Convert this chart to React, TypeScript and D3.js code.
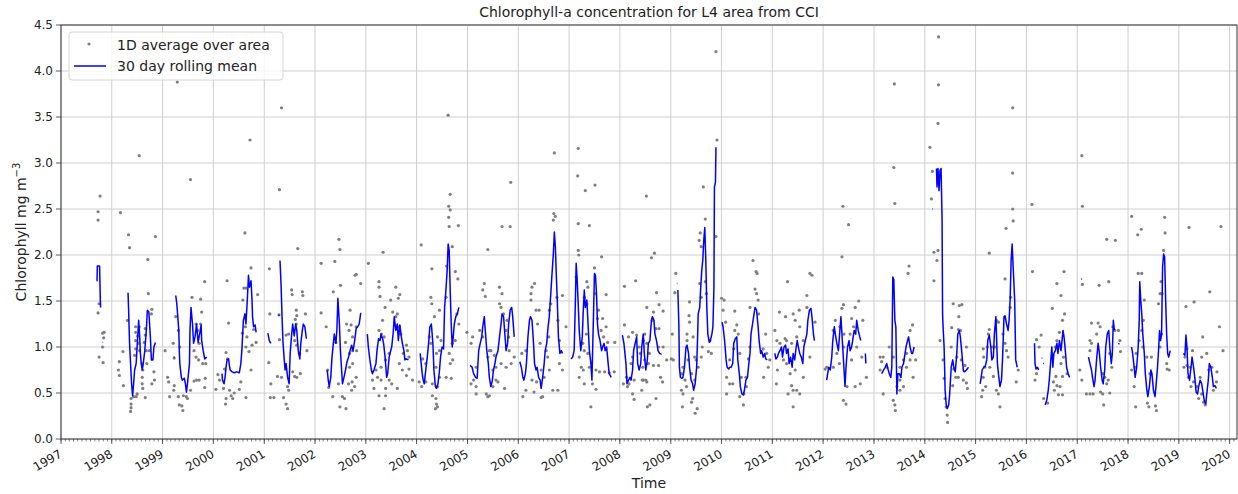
import * as d3 from 'd3';

type Pt = [number, number | null];

// 1D average over area (decimal year, mg m-3)
const s1997: Pt[] = [[1997.73,2.47],[1997.73,2.38],[1997.77,2.64],[1997.75,1.47],[1997.73,1.37],[1997.82,1.15],[1997.85,1.16],[1997.84,1.10],[1997.82,1.0],[1997.75,0.89],[1997.83,0.83]];
const s1998: Pt[] = [[1998.17,2.46],[1998.33,2.22],[1998.35,2.08],[1998.54,3.08],[1998.86,2.20],[1998.71,1.95],[1998.72,1.58],[1998.79,1.41],[1998.78,1.36],[1998.31,1.29],[1998.22,0.95],[1998.15,0.84],[1998.13,0.75],[1998.15,0.69],[1998.23,0.58],[1998.47,1.22],[1998.54,1.22],[1998.47,1.16],[1998.51,1.12],[1998.47,1.07],[1998.53,1.04],[1998.47,0.98],[1998.55,0.96],[1998.45,0.91],[1998.66,1.20],[1998.66,1.13],[1998.64,1.05],[1998.68,0.96],[1998.60,0.82],[1998.61,0.75],[1998.60,0.67],[1998.60,0.60],[1998.61,0.55],[1998.69,0.82],[1998.83,0.73],[1998.84,0.64],[1998.79,0.60],[1998.74,0.96],[1998.43,0.46],[1998.48,0.46],[1998.38,0.44],[1998.38,0.38],[1998.38,0.34],[1998.66,0.45],[1998.50,0.49],[1998.37,0.30]];
const s1999: Pt[] = [[1999.29,3.88],[1999.55,2.82],[1999.83,1.71],[1999.75,1.52],[1999.58,1.54],[1999.77,1.38],[1999.26,1.33],[1999.31,1.18],[1999.21,1.04],[1999.34,1.0],[1999.05,0.96],[1999.23,0.88],[1999.66,1.25],[1999.69,1.18],[1999.75,1.25],[1999.72,1.04],[1999.62,0.96],[1999.66,0.89],[1999.71,0.86],[1999.79,0.82],[1999.85,0.82],[1999.67,0.64],[1999.72,0.64],[1999.62,0.63],[1999.84,0.66],[1999.10,0.67],[1999.12,0.62],[1999.23,0.58],[1999.22,0.53],[1999.14,0.46],[1999.31,0.46],[1999.41,0.47],[1999.47,0.46],[1999.49,0.44],[1999.33,0.37],[1999.38,0.36],[1999.83,0.56],[1999.55,0.53],[1999.40,0.31]];
const s2000: Pt[] = [[2000.27,1.72],[2000.58,1.51],[2000.60,1.64],[2000.64,1.64],[2000.62,2.24],[2000.74,1.86],[2000.87,1.57],[2000.30,1.26],[2000.63,1.22],[2000.79,1.19],[2000.84,1.05],[2000.57,1.15],[2000.66,1.11],[2000.76,1.02],[2000.64,1.0],[2000.70,0.95],[2000.74,0.75],[2000.25,0.94],[2000.28,0.87],[2000.22,0.76],[2000.09,0.70],[2000.12,0.64],[2000.20,0.55],[2000.05,0.54],[2000.32,0.53],[2000.35,0.47],[2000.41,0.50],[2000.51,0.54],[2000.38,0.44],[2000.25,0.44],[2000.24,0.38],[2000.64,0.45],[2000.54,0.62],[2000.72,3.25]];
const s2001: Pt[] = [[2001.34,3.60],[2001.30,2.71],[2001.66,2.07],[2001.10,1.85],[2001.54,1.62],[2001.55,1.57],[2001.75,1.60],[2001.76,1.56],[2001.11,1.36],[2001.29,1.35],[2001.63,1.40],[2001.64,1.34],[2001.61,1.30],[2001.81,1.36],[2001.63,1.25],[2001.48,1.14],[2001.43,1.13],[2001.30,1.08],[2001.60,1.07],[2001.64,1.02],[2001.69,0.93],[2001.84,0.96],[2001.09,0.83],[2001.26,0.68],[2001.34,0.67],[2001.56,0.73],[2001.60,0.68],[2001.64,0.67],[2001.71,0.71],[2001.13,0.60],[2001.46,0.57],[2001.48,0.53],[2001.12,0.45],[2001.19,0.45],[2001.38,0.45],[2001.43,0.38],[2001.46,0.33]];
const s2002: Pt[] = [[2002.12,1.91],[2002.47,2.17],[2002.49,2.06],[2002.39,1.93],[2002.50,1.67],[2002.81,1.79],[2002.36,1.60],[2002.12,1.37],[2002.62,1.25],[2002.22,1.22],[2002.71,1.24],[2002.81,1.22],[2002.67,1.18],[2002.74,1.11],[2002.60,1.05],[2002.41,1.05],[2002.82,0.96],[2002.68,0.93],[2002.74,0.82],[2002.25,0.75],[2002.68,0.78],[2002.81,0.67],[2002.73,0.62],[2002.78,0.57],[2002.27,0.56],[2002.66,0.60],[2002.46,0.60],[2002.54,0.46],[2002.58,0.44],[2002.35,0.46],[2002.49,0.35],[2002.61,0.33],[2002.79,1.78],[2002.90,1.69],[2002.69,1.40],[2002.74,0.96],[2002.72,0.53]];
const s2003: Pt[] = [[2003.34,2.03],[2003.05,1.91],[2003.26,1.71],[2003.26,1.65],[2003.28,1.55],[2003.38,1.43],[2003.49,1.51],[2003.59,1.65],[2003.67,1.57],[2003.64,1.53],[2003.53,1.38],[2003.62,1.36],[2003.33,1.29],[2003.59,1.33],[2003.26,1.18],[2003.31,1.14],[2003.36,1.11],[2003.66,1.22],[2003.69,1.14],[2003.80,1.02],[2003.82,0.96],[2003.74,0.93],[2003.85,0.89],[2003.46,0.93],[2003.39,0.86],[2003.66,0.82],[2003.72,0.75],[2003.85,0.76],[2003.80,0.69],[2003.30,0.78],[2003.20,0.75],[2003.23,0.67],[2003.13,0.64],[2003.16,0.55],[2003.30,0.64],[2003.46,0.64],[2003.39,0.55],[2003.51,0.60],[2003.62,0.55],[2003.92,0.64],[2003.26,0.47],[2003.39,0.47],[2003.36,0.33]];
const s2004: Pt[] = [[2004.09,2.11],[2004.30,1.85],[2004.66,2.66],[2004.63,2.53],[2004.66,2.49],[2004.63,2.41],[2004.64,2.31],[2004.82,2.32],[2004.70,2.09],[2004.59,1.88],[2004.76,1.82],[2004.81,1.74],[2004.58,1.54],[2004.45,1.40],[2004.30,1.47],[2004.28,1.54],[2004.35,1.33],[2004.25,1.11],[2004.28,1.04],[2004.41,1.11],[2004.45,0.96],[2004.39,0.93],[2004.48,1.07],[2004.76,1.07],[2004.70,1.04],[2004.64,0.93],[2004.71,0.86],[2004.66,0.82],[2004.12,0.87],[2004.18,0.82],[2004.38,0.78],[2004.45,0.67],[2004.58,0.67],[2004.68,0.66],[2004.18,0.62],[2004.05,0.62],[2004.10,0.57],[2004.31,0.60],[2004.41,0.57],[2004.31,0.47],[2004.38,0.44],[2004.39,0.38],[2004.37,0.33],[2004.41,0.35],[2004.62,3.52],[2004.99,1.16],[2004.83,1.25],[2004.79,1.36]];
const s2005: Pt[] = [[2005.40,2.06],[2005.33,1.69],[2005.30,1.62],[2005.35,1.55],[2005.10,1.11],[2005.07,1.04],[2005.24,1.18],[2005.30,1.11],[2005.43,0.96],[2005.40,0.89],[2005.63,1.65],[2005.68,1.58],[2005.63,1.47],[2005.66,1.43],[2005.71,1.36],[2005.76,1.18],[2005.81,1.11],[2005.78,1.29],[2005.82,0.96],[2005.86,0.82],[2005.92,0.89],[2005.76,0.78],[2005.66,0.82],[2005.56,0.78],[2005.50,0.75],[2005.46,0.96],[2005.53,0.91],[2005.17,0.78],[2005.12,0.64],[2005.07,0.60],[2005.17,0.57],[2005.56,0.64],[2005.50,0.57],[2005.60,0.62],[2005.37,0.49],[2005.43,0.47],[2005.40,0.46],[2005.73,0.55],[2005.17,0.49],[2005.68,2.31],[2005.84,2.31],[2005.85,2.79]];
const s2006: Pt[] = [[2006.25,1.58],[2006.27,1.65],[2006.25,1.51],[2006.32,1.69],[2006.35,1.40],[2006.41,1.40],[2006.38,1.25],[2006.43,1.04],[2006.55,0.96],[2006.60,1.11],[2006.61,1.40],[2006.64,1.47],[2006.70,2.45],[2006.73,2.42],[2006.69,2.38],[2006.76,1.54],[2006.78,1.29],[2006.81,1.07],[2006.87,1.56],[2006.94,1.22],[2006.81,0.82],[2006.87,0.75],[2006.58,0.89],[2006.61,0.75],[2006.51,0.67],[2006.45,0.75],[2006.36,0.62],[2006.27,0.64],[2006.15,0.53],[2006.31,0.51],[2006.45,0.45],[2006.09,0.46],[2006.48,0.46],[2006.68,0.53],[2006.78,0.53],[2006.07,0.93],[2006.15,0.96],[2006.71,3.11]];
const s2007: Pt[] = [[2007.17,2.86],[2007.32,2.70],[2007.51,2.76],[2007.18,2.34],[2007.40,2.32],[2007.18,2.05],[2007.19,2.0],[2007.64,1.98],[2007.50,1.86],[2007.14,1.76],[2007.35,1.71],[2007.37,1.65],[2007.52,1.58],[2007.73,1.57],[2007.30,1.54],[2007.35,1.47],[2007.58,1.40],[2007.56,1.31],[2007.66,1.31],[2007.63,1.18],[2007.73,1.22],[2007.68,1.11],[2007.76,1.05],[2007.90,1.05],[2007.34,1.14],[2007.27,1.04],[2007.30,0.96],[2007.37,0.93],[2007.20,0.89],[2007.24,0.78],[2007.28,0.75],[2007.40,0.78],[2007.53,0.75],[2007.60,0.73],[2007.70,0.73],[2007.79,0.72],[2007.89,0.73],[2007.20,0.67],[2007.30,0.60],[2007.46,0.60],[2007.53,0.54],[2007.43,0.35],[2007.18,3.16]];
const s2008: Pt[] = [[2008.09,1.66],[2008.31,1.72],[2008.09,1.24],[2008.17,1.11],[2008.25,1.16],[2008.33,1.13],[2008.38,1.0],[2008.25,0.89],[2008.22,0.82],[2008.13,0.67],[2008.07,0.60],[2008.18,0.60],[2008.28,0.64],[2008.44,0.64],[2008.51,0.64],[2008.15,0.57],[2008.25,0.49],[2008.28,0.43],[2008.45,0.78],[2008.53,1.43],[2008.52,2.64],[2008.62,1.97],[2008.68,2.02],[2008.72,1.59],[2008.77,1.46],[2008.85,1.39],[2008.66,1.38],[2008.64,1.29],[2008.71,1.20],[2008.77,1.20],[2008.49,1.14],[2008.46,1.07],[2008.53,1.04],[2008.76,1.0],[2008.58,0.93],[2008.85,1.0],[2008.40,0.93],[2008.49,0.86],[2008.56,0.82],[2008.66,0.80],[2008.76,0.80],[2008.92,0.86],[2009.01,0.87],[2008.80,0.67],[2008.84,0.62],[2008.46,0.64],[2008.53,0.62],[2008.43,0.53],[2008.71,0.44],[2008.59,0.37],[2008.54,0.35]];
const s2009: Pt[] = [[2009.10,1.80],[2009.08,1.59],[2009.37,1.49],[2009.36,1.34],[2009.37,1.27],[2009.32,1.14],[2009.32,1.07],[2009.44,1.11],[2009.64,2.74],[2009.68,2.39],[2009.56,2.16],[2009.58,2.24],[2009.60,2.09],[2009.57,1.69],[2009.60,1.54],[2009.68,1.71],[2009.70,1.58],[2009.77,1.07],[2009.62,1.0],[2009.74,0.95],[2009.80,0.93],[2009.34,0.86],[2009.24,0.78],[2009.21,0.71],[2009.28,0.64],[2009.41,0.71],[2009.47,0.89],[2009.50,0.86],[2009.54,0.78],[2009.60,0.89],[2009.47,0.64],[2009.31,0.57],[2009.21,0.53],[2009.24,0.49],[2009.43,0.44],[2009.41,0.40],[2009.23,0.35],[2009.91,3.25],[2009.89,4.21],[2009.89,2.20],[2009.03,1.14],[2009.05,0.86],[2009.48,0.28],[2009.52,0.33]];
const s2010: Pt[] = [[2010.00,1.53],[2010.05,1.51],[2010.03,1.40],[2010.08,1.27],[2010.26,1.39],[2010.30,1.24],[2010.26,1.18],[2010.33,1.14],[2010.36,0.93],[2010.24,0.98],[2010.16,0.86],[2010.10,0.67],[2010.16,0.60],[2010.22,0.60],[2010.56,1.43],[2010.62,1.94],[2010.68,1.82],[2010.70,1.80],[2010.66,1.63],[2010.69,1.58],[2010.72,1.51],[2010.73,1.36],[2010.87,1.14],[2010.82,0.98],[2010.89,0.93],[2010.95,0.86],[2010.92,0.78],[2010.83,0.67],[2010.56,1.0],[2010.53,0.87],[2010.48,0.67],[2010.39,0.67],[2010.49,0.57],[2010.44,0.49],[2010.36,0.46],[2010.43,0.37],[2010.10,0.49]];
const s2011: Pt[] = [[2011.30,1.71],[2011.05,1.18],[2011.14,1.38],[2011.26,1.33],[2011.41,1.36],[2011.45,1.29],[2011.53,1.40],[2011.54,1.22],[2011.68,1.56],[2011.74,1.80],[2011.78,1.78],[2011.84,1.27],[2011.68,1.43],[2011.09,1.07],[2011.15,1.04],[2011.25,1.09],[2011.28,1.07],[2011.38,1.04],[2011.48,1.11],[2011.61,1.07],[2011.22,0.86],[2011.28,0.82],[2011.10,0.75],[2011.45,0.75],[2011.74,0.89],[2011.35,0.71],[2011.08,0.60],[2011.38,0.58],[2011.41,0.53],[2011.31,0.49],[2011.48,0.53],[2011.54,0.49],[2011.41,0.35],[2011.61,0.67]];
const s2012: Pt[] = [[2012.39,2.53],[2012.50,2.33],[2012.37,1.98],[2012.40,1.46],[2012.37,1.42],[2012.63,1.43],[2012.70,1.50],[2012.24,1.29],[2012.33,1.22],[2012.41,1.14],[2012.56,1.31],[2012.60,1.22],[2012.53,1.14],[2012.78,1.29],[2012.20,1.18],[2012.27,0.93],[2012.40,1.0],[2012.66,1.0],[2012.76,0.89],[2012.07,0.78],[2012.20,0.78],[2012.32,0.82],[2012.04,0.76],[2012.56,0.86],[2012.85,0.67],[2012.47,0.57],[2012.63,0.57],[2012.73,0.60],[2012.40,0.42],[2012.45,0.38]];
const s2013: Pt[] = [[2013.39,2.95],[2013.41,2.56],[2013.40,3.86],[2013.69,1.88],[2013.67,1.80],[2013.76,1.24],[2013.71,1.18],[2013.30,1.0],[2013.12,0.89],[2013.15,0.84],[2013.18,0.89],[2013.25,0.78],[2013.38,0.89],[2013.51,0.78],[2013.58,0.86],[2013.64,0.93],[2013.71,0.86],[2013.82,0.86],[2013.64,0.78],[2013.77,0.67],[2013.51,0.64],[2013.45,0.57],[2013.58,0.57],[2013.12,0.75],[2013.18,0.49],[2013.38,0.42],[2013.41,0.37],[2013.51,0.53],[2013.42,0.31]];
const s2014: Pt[] = [[2014.10,3.17],[2014.26,3.43],[2014.27,4.37],[2014.27,3.85],[2014.15,2.91],[2014.25,2.90],[2014.13,2.61],[2014.18,2.03],[2014.26,2.05],[2014.24,1.94],[2014.18,1.72],[2014.30,1.07],[2014.36,0.86],[2014.38,0.66],[2014.40,0.44],[2014.42,0.35],[2014.45,0.18],[2014.44,0.26],[2014.56,1.47],[2014.68,1.45],[2014.73,1.46],[2014.67,1.33],[2014.53,1.21],[2014.66,1.19],[2014.70,1.18],[2014.52,1.0],[2014.63,0.89],[2014.57,0.76],[2014.61,0.67],[2014.55,0.58],[2014.66,0.67],[2014.76,0.64],[2014.82,0.61],[2014.84,0.55],[2014.72,0.86],[2014.79,0.80],[2014.82,1.0]];
const s2015: Pt[] = [[2015.27,2.02],[2015.73,2.89],[2015.73,2.50],[2015.74,2.37],[2015.60,2.29],[2015.58,1.74],[2015.69,1.54],[2015.68,1.43],[2015.41,1.29],[2015.45,1.27],[2015.27,1.19],[2015.25,1.14],[2015.15,0.98],[2015.23,1.0],[2015.33,1.0],[2015.38,1.0],[2015.54,1.14],[2015.58,1.04],[2015.61,0.96],[2015.64,0.89],[2015.16,0.89],[2015.18,0.78],[2015.28,0.78],[2015.15,0.67],[2015.35,0.68],[2015.20,0.57],[2015.14,0.53],[2015.41,0.53],[2015.45,0.49],[2015.48,0.35],[2015.12,0.46],[2015.80,0.62],[2015.84,0.75],[2015.73,3.60]];
const s2016: Pt[] = [[2016.11,2.55],[2016.12,1.82],[2016.74,1.82],[2016.60,1.69],[2016.68,1.56],[2016.51,1.42],[2016.75,1.36],[2016.71,1.29],[2016.65,1.16],[2016.20,1.08],[2016.29,1.13],[2016.25,1.0],[2016.60,1.07],[2016.57,1.0],[2016.73,0.89],[2016.68,0.82],[2016.80,0.71],[2016.58,0.68],[2016.71,0.68],[2016.20,0.71],[2016.17,0.64],[2016.53,0.62],[2016.60,0.58],[2016.55,0.53],[2016.66,0.57],[2016.63,0.48],[2016.71,0.48],[2016.34,0.44],[2016.42,0.39]];
const s2017: Pt[] = [[2017.09,3.08],[2017.10,2.53],[2017.10,1.68],[2017.43,1.67],[2017.62,1.71],[2017.58,2.17],[2017.75,2.16],[2017.41,1.26],[2017.28,1.26],[2017.45,1.22],[2017.38,1.14],[2017.25,1.07],[2017.28,1.04],[2017.25,0.96],[2017.70,1.22],[2017.74,1.18],[2017.81,1.18],[2017.84,1.07],[2017.85,0.95],[2017.64,0.93],[2017.68,0.78],[2017.51,0.71],[2017.54,0.67],[2017.61,0.64],[2017.58,0.60],[2017.18,0.49],[2017.25,0.49],[2017.31,0.49],[2017.46,0.51],[2017.50,0.49],[2017.52,0.37],[2017.64,0.50],[2017.05,0.75],[2017.09,0.64]];
const s2018: Pt[] = [[2018.07,2.42],[2018.19,2.22],[2018.26,2.28],[2018.20,1.80],[2018.27,1.80],[2018.32,1.51],[2018.30,1.29],[2018.27,1.18],[2018.22,1.07],[2018.29,1.0],[2018.16,0.93],[2018.07,0.75],[2018.14,0.78],[2018.12,0.57],[2018.15,0.35],[2018.38,0.39],[2018.41,0.35],[2018.54,0.36],[2018.56,0.31],[2018.37,0.89],[2018.43,0.71],[2018.46,0.89],[2018.63,1.0],[2018.66,1.14],[2018.60,1.47],[2018.63,1.58],[2018.65,1.71],[2018.72,2.41],[2018.73,2.24],[2018.70,2.05],[2018.76,0.82],[2018.77,0.76],[2018.81,0.75],[2018.67,1.58]];
const s2019: Pt[] = [[2019.20,2.30],[2019.30,1.49],[2019.14,1.44],[2019.47,1.11],[2019.83,2.31],[2019.61,1.60],[2019.80,1.22],[2019.87,0.96],[2019.16,0.98],[2019.12,0.89],[2019.27,0.96],[2019.16,0.80],[2019.22,0.78],[2019.19,0.67],[2019.29,0.62],[2019.42,0.67],[2019.45,0.89],[2019.55,0.93],[2019.59,0.75],[2019.65,0.78],[2019.75,0.73],[2019.68,0.53],[2019.36,0.57],[2019.39,0.44],[2019.45,0.49],[2019.49,0.40],[2019.52,0.37],[2019.74,0.62],[2019.24,0.57],[2019.10,0.78]];

// 30 day rolling mean, null = gap
const m1997: Pt[] = [[1997.70,1.72],[1997.71,1.72],[1997.715,1.88],[1997.76,1.88],[1997.775,1.50],[1997.78,1.43],[1997.79,null],[1997.82,1.05],[1997.83,1.05]];
const m1998: Pt[] = [[1998.32,1.59],[1998.33,1.43],[1998.35,1.04],[1998.37,0.82],[1998.39,0.60],[1998.41,0.47],[1998.43,0.60],[1998.45,0.75],[1998.48,0.82],[1998.51,1.11],[1998.53,1.29],[1998.55,1.11],[1998.56,0.96],[1998.58,0.82],[1998.60,0.75],[1998.62,0.82],[1998.65,0.96],[1998.68,1.18],[1998.70,1.40],[1998.73,1.38],[1998.76,1.11],[1998.78,0.86],[1998.81,0.86],[1998.83,1.0],[1998.86,1.05]];
const m1999: Pt[] = [[1999.22,0.89],[1999.235,0.89],[1999.24,null],[1999.26,1.56],[1999.28,1.47],[1999.30,1.33],[1999.32,1.18],[1999.33,0.96],[1999.34,0.82],[1999.37,0.67],[1999.39,0.64],[1999.43,0.66],[1999.45,0.60],[1999.47,0.51],[1999.49,0.60],[1999.53,0.82],[1999.54,1.18],[1999.56,1.43],[1999.59,1.25],[1999.61,1.04],[1999.64,1.11],[1999.67,1.25],[1999.70,1.05],[1999.72,1.11],[1999.76,1.24],[1999.77,1.07],[1999.80,0.96],[1999.83,0.87],[1999.87,0.89]];
const m2000: Pt[] = [[2000.17,0.71],[2000.18,0.64],[2000.21,0.60],[2000.23,0.67],[2000.25,0.78],[2000.27,0.86],[2000.30,0.87],[2000.32,0.78],[2000.33,0.75],[2000.37,0.73],[2000.41,0.72],[2000.46,0.73],[2000.51,0.72],[2000.54,0.82],[2000.56,0.96],[2000.59,1.29],[2000.62,1.36],[2000.64,1.25],[2000.67,1.54],[2000.69,1.78],[2000.71,1.65],[2000.74,1.72],[2000.76,1.51],[2000.77,1.33],[2000.79,1.22],[2000.82,1.24],[2000.84,1.16]];
const m2001: Pt[] = [[2001.07,1.15],[2001.10,1.07],[2001.13,1.04],[2001.2,null],[2001.28,1.35],[2001.30,1.34],[2001.305,null],[2001.31,1.94],[2001.33,1.69],[2001.35,1.33],[2001.37,1.04],[2001.39,0.89],[2001.41,0.75],[2001.43,0.82],[2001.46,0.67],[2001.49,0.60],[2001.51,0.93],[2001.54,1.14],[2001.56,1.25],[2001.59,1.12],[2001.62,1.25],[2001.64,1.18],[2001.67,0.96],[2001.70,0.87],[2001.72,1.04],[2001.75,1.18],[2001.77,1.25],[2001.80,1.22],[2001.83,1.09]];
const m2002: Pt[] = [[2002.24,0.75],[2002.26,0.64],[2002.28,0.57],[2002.31,0.67],[2002.33,0.86],[2002.36,1.04],[2002.38,1.14],[2002.41,1.04],[2002.43,1.18],[2002.45,1.53],[2002.48,1.25],[2002.50,0.96],[2002.52,0.78],[2002.54,0.60],[2002.57,0.67],[2002.60,0.75],[2002.63,0.84],[2002.66,0.89],[2002.69,0.96],[2002.72,1.02],[2002.75,0.96],[2002.78,1.07],[2002.81,1.20],[2002.84,1.22],[2002.87,1.25],[2002.90,1.37]];
const m2003: Pt[] = [[2003.03,1.14],[2003.05,1.0],[2003.08,0.86],[2003.11,0.75],[2003.13,0.71],[2003.16,0.75],[2003.20,0.82],[2003.22,0.96],[2003.25,1.09],[2003.28,1.07],[2003.30,1.14],[2003.33,1.09],[2003.35,1.04],[2003.38,0.89],[2003.41,0.67],[2003.43,0.71],[2003.46,0.89],[2003.49,0.96],[2003.51,1.0],[2003.54,1.16],[2003.56,1.33],[2003.59,1.18],[2003.62,1.25],[2003.64,1.07],[2003.67,1.24],[2003.70,1.11],[2003.72,1.04],[2003.75,0.96],[2003.77,0.86],[2003.80,0.87],[2003.84,0.86]];
const m2004: Pt[] = [[2004.07,0.93],[2004.09,0.82],[2004.11,0.71],[2004.13,0.64],[2004.15,0.60],[2004.18,0.75],[2004.21,0.89],[2004.24,1.07],[2004.26,1.22],[2004.29,1.25],[2004.32,1.04],[2004.34,0.75],[2004.37,0.57],[2004.39,0.55],[2004.42,0.60],[2004.45,0.75],[2004.47,0.89],[2004.50,1.0],[2004.53,0.98],[2004.55,1.43],[2004.58,1.65],[2004.60,1.83],[2004.62,2.12],[2004.64,2.05],[2004.66,1.61],[2004.68,1.25],[2004.70,1.0],[2004.72,1.11],[2004.74,1.25],[2004.77,1.33],[2004.80,1.36],[2004.83,1.43]];
const m2005: Pt[] = [[2005.05,0.80],[2005.09,0.78],[2005.12,0.71],[2005.16,0.67],[2005.19,0.66],[2005.22,0.96],[2005.25,1.04],[2005.28,1.11],[2005.30,1.22],[2005.33,1.33],[2005.35,1.18],[2005.38,0.96],[2005.41,0.82],[2005.43,0.67],[2005.46,0.57],[2005.49,0.64],[2005.51,0.75],[2005.54,0.82],[2005.56,0.89],[2005.60,0.96],[2005.63,1.11],[2005.66,1.25],[2005.68,1.36],[2005.71,1.33],[2005.73,1.18],[2005.76,0.96],[2005.79,1.04],[2005.81,1.25],[2005.84,1.40],[2005.87,1.43],[2005.89,1.33],[2005.92,1.11]];
const m2006: Pt[] = [[2006.03,0.84],[2006.06,0.78],[2006.09,0.67],[2006.11,0.64],[2006.14,0.71],[2006.16,0.82],[2006.19,1.11],[2006.22,1.29],[2006.24,1.33],[2006.27,1.29],[2006.30,1.04],[2006.32,0.82],[2006.35,0.75],[2006.37,0.78],[2006.40,0.67],[2006.43,0.64],[2006.45,0.55],[2006.48,0.67],[2006.51,0.82],[2006.53,0.96],[2006.56,1.04],[2006.58,1.18],[2006.61,1.33],[2006.64,1.58],[2006.66,1.76],[2006.69,2.01],[2006.71,2.25],[2006.73,2.09],[2006.75,1.76],[2006.77,1.47],[2006.79,1.11],[2006.82,0.93],[2006.85,0.96],[2006.87,0.93]];
const m2007: Pt[] = [[2007.04,0.87],[2007.07,0.89],[2007.10,0.96],[2007.12,1.40],[2007.14,1.91],[2007.16,1.72],[2007.18,1.47],[2007.20,1.18],[2007.23,0.96],[2007.26,1.11],[2007.28,1.40],[2007.30,1.62],[2007.32,1.43],[2007.35,1.51],[2007.37,1.29],[2007.40,0.96],[2007.43,0.82],[2007.45,0.64],[2007.48,1.33],[2007.50,1.80],[2007.52,1.78],[2007.54,1.58],[2007.56,1.25],[2007.58,1.14],[2007.61,1.07],[2007.64,0.96],[2007.66,1.0],[2007.69,1.04],[2007.71,0.96],[2007.74,1.0],[2007.77,0.82],[2007.79,0.71],[2007.83,0.67]];
const m2008: Pt[] = [[2008.05,1.13],[2008.08,1.04],[2008.12,0.82],[2008.14,0.60],[2008.17,0.64],[2008.20,0.67],[2008.22,0.64],[2008.25,0.75],[2008.27,0.96],[2008.30,1.04],[2008.33,1.11],[2008.35,0.82],[2008.38,0.75],[2008.41,0.82],[2008.43,1.0],[2008.46,1.14],[2008.48,0.93],[2008.51,0.75],[2008.54,0.86],[2008.56,1.04],[2008.59,1.07],[2008.62,1.29],[2008.64,1.33],[2008.67,1.29],[2008.69,1.14],[2008.72,1.07],[2008.75,0.96],[2008.78,0.93],[2008.82,0.92]];
const m2009: Pt[] = [[2009.12,1.69],[2009.13,1.69],[2009.135,null],[2009.14,1.62],[2009.16,1.22],[2009.17,0.78],[2009.19,0.67],[2009.22,0.66],[2009.24,0.67],[2009.27,0.78],[2009.30,1.0],[2009.32,1.02],[2009.35,0.93],[2009.37,0.78],[2009.40,0.64],[2009.43,0.60],[2009.45,0.53],[2009.48,0.60],[2009.51,0.78],[2009.53,1.14],[2009.54,1.36],[2009.57,1.43],[2009.59,1.65],[2009.61,1.83],[2009.63,1.94],[2009.65,2.16],[2009.67,2.30],[2009.69,1.94],[2009.71,1.43],[2009.73,1.14],[2009.76,1.05],[2009.78,1.07],[2009.81,1.14],[2009.83,1.22],[2009.85,1.65],[2009.86,2.74],[2009.88,2.79],[2009.89,3.17]];
const m2010: Pt[] = [[2010.01,1.27],[2010.03,1.22],[2010.06,1.07],[2010.09,0.86],[2010.11,0.78],[2010.14,0.76],[2010.16,0.78],[2010.19,0.78],[2010.22,0.82],[2010.24,1.04],[2010.27,1.09],[2010.30,1.11],[2010.32,0.86],[2010.35,0.71],[2010.37,0.57],[2010.40,0.49],[2010.43,0.48],[2010.45,0.53],[2010.48,0.64],[2010.51,0.67],[2010.53,0.78],[2010.56,0.93],[2010.58,1.14],[2010.61,1.25],[2010.64,1.36],[2010.66,1.43],[2010.69,1.40],[2010.72,1.22],[2010.74,1.07],[2010.77,0.93],[2010.79,0.96],[2010.82,0.89],[2010.85,0.93],[2010.87,0.87],[2010.90,0.86]];
const m2011: Pt[] = [[2011.05,0.93],[2011.07,0.87],[2011.10,0.89],[2011.12,0.93],[2011.15,0.96],[2011.18,1.0],[2011.20,0.89],[2011.23,1.0],[2011.26,1.02],[2011.28,0.93],[2011.31,0.98],[2011.33,0.82],[2011.36,0.89],[2011.39,0.78],[2011.41,0.93],[2011.44,0.86],[2011.47,1.0],[2011.49,1.07],[2011.52,0.98],[2011.54,0.93],[2011.57,0.89],[2011.60,0.82],[2011.62,1.0],[2011.65,1.07],[2011.68,1.14],[2011.70,1.29],[2011.73,1.40],[2011.76,1.42],[2011.78,1.33],[2011.81,1.14],[2011.83,1.07]];
const m2012: Pt[] = [[2012.07,0.64],[2012.09,0.71],[2012.11,0.78],[2012.14,0.75],[2012.17,0.89],[2012.19,1.07],[2012.22,1.22],[2012.24,1.14],[2012.27,1.04],[2012.30,0.96],[2012.32,1.11],[2012.35,1.33],[2012.37,1.14],[2012.40,0.86],[2012.43,0.57],[2012.45,0.78],[2012.48,1.0],[2012.51,1.07],[2012.53,0.96],[2012.56,1.0],[2012.58,1.07],[2012.61,1.18],[2012.64,1.14],[2012.66,1.29],[2012.69,1.18],[2012.72,1.11],[2012.74,1.07],[2012.78,null],[2012.83,0.93],[2012.84,0.82]];
const m2013: Pt[] = [[2013.15,0.71],[2013.18,0.74],[2013.22,0.78],[2013.25,0.82],[2013.28,0.75],[2013.30,0.71],[2013.33,0.67],[2013.35,0.78],[2013.37,1.76],[2013.39,1.73],[2013.41,1.29],[2013.43,1.22],[2013.45,0.49],[2013.47,0.71],[2013.50,0.71],[2013.53,0.67],[2013.55,0.78],[2013.58,0.82],[2013.60,0.89],[2013.63,1.0],[2013.66,1.07],[2013.68,1.11],[2013.71,1.0],[2013.74,0.93],[2013.76,0.93],[2013.79,1.0]];
const m2014: Pt[] = [[2014.15,2.50],[2014.16,2.50],[2014.2,null],[2014.23,2.94],[2014.24,2.74],[2014.26,2.94],[2014.28,2.70],[2014.30,2.92],[2014.32,2.94],[2014.34,2.39],[2014.35,1.36],[2014.36,1.22],[2014.38,1.0],[2014.39,0.78],[2014.40,0.53],[2014.42,0.38],[2014.44,0.33],[2014.47,0.37],[2014.49,0.49],[2014.52,0.78],[2014.55,0.86],[2014.57,0.78],[2014.60,0.73],[2014.63,0.93],[2014.65,1.14],[2014.68,1.18],[2014.70,1.11],[2014.73,0.93],[2014.76,0.74],[2014.78,0.73],[2014.82,0.75],[2014.86,0.78]];
const m2015: Pt[] = [[2015.09,0.60],[2015.11,0.67],[2015.13,0.75],[2015.16,0.78],[2015.19,0.79],[2015.22,0.86],[2015.24,1.07],[2015.27,1.13],[2015.30,1.0],[2015.32,0.86],[2015.35,0.89],[2015.37,1.14],[2015.40,1.33],[2015.43,0.82],[2015.45,0.71],[2015.48,0.57],[2015.51,0.64],[2015.53,0.86],[2015.56,1.33],[2015.58,1.34],[2015.61,1.25],[2015.64,1.18],[2015.66,1.29],[2015.68,1.51],[2015.70,1.94],[2015.72,2.12],[2015.74,1.87],[2015.77,1.51],[2015.79,0.86],[2015.82,0.78]];
const m2016: Pt[] = [[2016.16,1.04],[2016.17,0.82],[2016.19,0.76],[2016.22,0.78],[2016.24,0.75],[2016.27,null],[2016.30,0.88],[2016.315,0.88],[2016.32,null],[2016.33,0.82],[2016.345,0.82],[2016.36,null],[2016.37,0.37],[2016.40,0.42],[2016.43,0.53],[2016.45,0.64],[2016.48,0.86],[2016.50,1.0],[2016.52,0.78],[2016.54,0.93],[2016.57,0.96],[2016.60,1.04],[2016.62,0.93],[2016.65,1.07],[2016.68,0.96],[2016.70,1.07],[2016.72,1.18],[2016.74,1.11],[2016.77,0.93],[2016.79,0.78],[2016.82,0.71],[2016.85,0.67]];
const m2017: Pt[] = [[2017.08,1.74],[2017.095,1.74],[2017.15,null],[2017.22,0.89],[2017.25,0.82],[2017.28,0.75],[2017.30,0.67],[2017.33,0.57],[2017.35,0.64],[2017.38,0.86],[2017.41,1.04],[2017.43,0.96],[2017.46,0.78],[2017.49,0.64],[2017.51,0.60],[2017.54,0.75],[2017.56,1.0],[2017.59,1.14],[2017.62,1.18],[2017.64,1.0],[2017.67,0.82],[2017.69,0.93],[2017.71,1.29],[2017.73,1.18],[2017.77,null],[2017.81,1.03],[2017.83,1.04]];
const m2018: Pt[] = [[2018.07,1.0],[2018.09,0.93],[2018.12,0.78],[2018.14,0.67],[2018.17,0.78],[2018.20,1.0],[2018.22,1.29],[2018.23,1.71],[2018.25,1.51],[2018.27,1.36],[2018.29,1.14],[2018.32,0.93],[2018.34,0.71],[2018.37,0.53],[2018.39,0.46],[2018.42,0.57],[2018.45,0.75],[2018.47,0.71],[2018.50,0.53],[2018.53,0.46],[2018.55,0.57],[2018.58,0.78],[2018.60,0.96],[2018.62,1.18],[2018.64,1.07],[2018.66,1.14],[2018.68,1.87],[2018.70,2.01],[2018.72,1.98],[2018.74,1.51],[2018.76,1.14],[2018.78,0.93],[2018.80,0.89],[2018.83,0.96]];
const m2019: Pt[] = [[2019.09,0.93],[2019.12,0.91],[2019.14,1.13],[2019.16,1.0],[2019.18,0.71],[2019.21,0.64],[2019.24,0.78],[2019.26,0.89],[2019.29,0.78],[2019.32,0.64],[2019.34,0.51],[2019.37,0.49],[2019.39,0.57],[2019.42,0.64],[2019.45,0.60],[2019.47,0.53],[2019.50,0.42],[2019.53,0.38],[2019.55,0.49],[2019.58,0.64],[2019.60,0.82],[2019.63,0.78],[2019.66,0.67],[2019.68,0.57],[2019.71,0.58],[2019.74,0.55]];

const scatter = [...s1997, ...s1998, ...s1999, ...s2000, ...s2001, ...s2002, ...s2003, ...s2004, ...s2005, ...s2006, ...s2007, ...s2008, ...s2009, ...s2010, ...s2011, ...s2012, ...s2013, ...s2014, ...s2015, ...s2016, ...s2017, ...s2018, ...s2019];
const meanSegments = [m1997, m1998, m1999, m2000, m2001, m2002, m2003, m2004, m2005, m2006, m2007, m2008, m2009, m2010, m2011, m2012, m2013, m2014, m2015, m2016, m2017, m2018, m2019];
const yTicks = [0, 0.5, 1, 1.5, 2, 2.5, 3, 3.5, 4, 4.5];

const FONT = 'DejaVu Sans, sans-serif';

// decimal year -> Date
function toDate(t: number) {
  const yr = Math.floor(t);
  const a = Date.UTC(yr, 0, 1), b = Date.UTC(yr + 1, 0, 1);
  return new Date(a + (t - yr) * (b - a));
}

export default function App() {
  const left = 61, right = 1237, top = 25, bottom = 439;

  const x = d3.scaleUtc()
    .domain([new Date(Date.UTC(1997, 0, 1)), toDate(2020.145)])
    .range([left, right]);
  const y = d3.scaleLinear().domain([0, 4.5]).range([bottom, top]);

  const line = d3.line<Pt>()
    .defined(d => d[1] != null)
    .x(d => x(toDate(d[0])))
    .y(d => y(d[1] as number));

  const years = d3.utcYear.range(x.domain()[0], x.domain()[1]);
  const months = d3.utcMonth.range(x.domain()[0], x.domain()[1]);

  return (
    <svg width={1238} height={494} style={{ position: 'absolute', left: 0, top: 0, background: '#fff' }} fontFamily={FONT}>
      <defs>
        <clipPath id="plot"><rect x={left} y={top} width={right - left} height={bottom - top} /></clipPath>
      </defs>

      {/* grid */}
      <g stroke="#cfcfcf" strokeWidth={1}>
        {years.map(d => <line key={+d} x1={x(d)} x2={x(d)} y1={top} y2={bottom} />)}
        {yTicks.map(v => <line key={v} x1={left} x2={right} y1={y(v)} y2={y(v)} />)}
      </g>

      <g clipPath="url(#plot)">
        {scatter.map((d, i) => (
          <circle key={i} cx={x(toDate(d[0]))} cy={y(d[1] as number)} r={1.6} fill="#7f7f7f" />
        ))}
        {meanSegments.map((seg, i) => (
          <path key={i} d={line(seg) || ''} fill="none" stroke="#0000ff" strokeWidth={1.5} strokeLinejoin="round" />
        ))}
      </g>

      {/* spines */}
      <rect x={left} y={top} width={right - left} height={bottom - top} fill="none" stroke="#333" strokeWidth={1} />

      {/* x ticks */}
      <g stroke="#333">
        {months.map(d => <line key={+d} x1={x(d)} x2={x(d)} y1={bottom} y2={bottom + 2.5} strokeWidth={0.6} />)}
        {years.map(d => <line key={+d} x1={x(d)} x2={x(d)} y1={bottom} y2={bottom + 5} strokeWidth={0.8} />)}
      </g>
      <g fontSize={12} fill="#222">
        {years.map(d => (
          <text key={+d} transform={`translate(${x(d) - 3},${bottom + 9}) rotate(-30)`} textAnchor="end" dy="0.8em">
            {d.getUTCFullYear()}
          </text>
        ))}
      </g>

      {/* y ticks */}
      <g>
        {yTicks.map(v => (
          <g key={v}>
            <line x1={left - 5} x2={left} y1={y(v)} y2={y(v)} stroke="#333" strokeWidth={0.8} />
            <text x={left - 8} y={y(v)} dy="0.35em" textAnchor="end" fontSize={12} fill="#222">{d3.format('.1f')(v)}</text>
          </g>
        ))}
      </g>

      {/* labels */}
      <text x={(left + right) / 2} y={17} textAnchor="middle" fontSize={14} fill="#222">Chlorophyll-a concentration for L4 area from CCI</text>
      <text x={(left + right) / 2} y={488} textAnchor="middle" fontSize={14} fill="#222">Time</text>
      <text transform={`translate(26,${(top + bottom) / 2}) rotate(-90)`} textAnchor="middle" fontSize={14} fill="#222">
        Chlorophyll mg m<tspan dy={-6} fontSize={10}>−3</tspan>
      </text>

      {/* legend */}
      <g>
        <rect x={69} y={32} width={214} height={48} rx={3} fill="#fff" fillOpacity={0.8} stroke="#d6d6d6" />
        <circle cx={89} cy={44} r={1.6} fill="#7f7f7f" />
        <text x={117} y={50} fontSize={14} fill="#222">1D average over area</text>
        <line x1={74} x2={106} y1={66} y2={66} stroke="#0000ff" strokeWidth={1.5} />
        <text x={117} y={71} fontSize={14} fill="#222">30 day rolling mean</text>
      </g>
    </svg>
  );
}
